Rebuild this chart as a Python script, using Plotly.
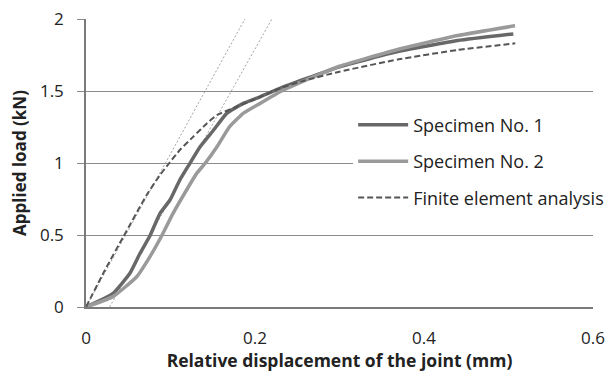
import plotly.graph_objects as go

# Specimen No. 1
spec1_x = [0, 0.032, 0.052, 0.064, 0.0757, 0.0876, 0.0994, 0.111, 0.123, 0.135, 0.151, 0.1665, 0.186, 0.206, 0.2296, 0.26, 0.3, 0.37, 0.44, 0.5057]
spec1_y = [0, 0.095, 0.234, 0.373, 0.495, 0.65, 0.743, 0.882, 0.998, 1.113, 1.229, 1.345, 1.414, 1.46, 1.519, 1.585, 1.668, 1.775, 1.85, 1.896]
# Specimen No. 2
spec2_x = [0, 0.032, 0.060, 0.0757, 0.0896, 0.103, 0.119, 0.131, 0.141, 0.155, 0.170, 0.186, 0.206, 0.2296, 0.26, 0.3, 0.37, 0.44, 0.5077]
spec2_y = [0, 0.072, 0.21, 0.35, 0.495, 0.65, 0.8125, 0.928, 0.998, 1.113, 1.252, 1.345, 1.414, 1.495, 1.575, 1.672, 1.79, 1.885, 1.953]
# Finite element analysis
fea_x = [0, 0.0225, 0.0442, 0.0718, 0.0876, 0.0986, 0.111, 0.127, 0.143, 0.155, 0.174, 0.198, 0.2296, 0.26, 0.3, 0.37, 0.44, 0.508]
fea_y = [0, 0.257, 0.488, 0.778, 0.917, 1.0, 1.09, 1.183, 1.275, 1.333, 1.38, 1.4375, 1.519, 1.575, 1.634, 1.72, 1.785, 1.831]
# Tangent (stiffness) lines
tan1_x = [0, 0.188]
tan1_y = [0, 2]
tan2_x = [0.028, 0.220]
tan2_y = [0, 2]

x_ticks = [0, 0.2, 0.4, 0.6]
x_tick_labels = ["0", "0.2", "0.4", "0.6"]
y_ticks = [0, 0.5, 1, 1.5, 2]
y_tick_labels = ["0", "0.5", "1", "1.5", "2"]

FONT = "Open Sans"

fig = go.Figure()
fig.add_trace(go.Scatter(x=tan1_x, y=tan1_y, mode="lines", showlegend=False,
                         line=dict(color="#8a8a8a", width=0.8, dash="2px,2px")))
fig.add_trace(go.Scatter(x=tan2_x, y=tan2_y, mode="lines", showlegend=False,
                         line=dict(color="#8a8a8a", width=0.8, dash="2px,2px")))
fig.add_trace(go.Scatter(x=spec1_x, y=spec1_y, mode="lines", name="Specimen No. 1",
                         legendgroup="a", line=dict(color="#686868", width=3.5,
                                                    shape="spline", smoothing=0.4)))
fig.add_trace(go.Scatter(x=spec2_x, y=spec2_y, mode="lines", name="Specimen No. 2",
                         legendgroup="b", line=dict(color="#9a9a9a", width=3.5,
                                                    shape="spline", smoothing=0.4)))
fig.add_trace(go.Scatter(x=fea_x, y=fea_y, mode="lines", name="Finite element analysis",
                         legendgroup="c", line=dict(color="#555555", width=2, dash="6px,3px",
                                                    shape="spline", smoothing=0.5)))

fig.update_layout(
    width=611, height=372,
    margin=dict(l=86, r=18, t=19, b=65, autoexpand=False),
    paper_bgcolor="white", plot_bgcolor="white",
    font=dict(family=FONT, size=17, color="#222222"),
    showlegend=True,
    legend=dict(xref="container", yref="container", x=0.578, y=0.7135,
                xanchor="left", yanchor="top", itemwidth=50,
                bgcolor="white", borderwidth=0, tracegroupgap=10,
                font=dict(family=FONT, size=18, color="#222222")),
    xaxis=dict(range=[0, 0.6], tickvals=x_ticks, ticktext=x_tick_labels,
               showgrid=False, zeroline=False, showline=True, linecolor="#7a7a7a", linewidth=1.5,
               ticks="outside", ticklen=15, tickcolor="rgba(0,0,0,0)",
               tickfont=dict(family=FONT, size=17),
               title=dict(text="<b>Relative displacement of the joint (mm)</b>", standoff=0,
                          font=dict(family=FONT, size=17.5))),
    yaxis=dict(range=[0, 2], tickvals=y_ticks, ticktext=y_tick_labels,
               showgrid=True, gridcolor="#8a8a8a", gridwidth=1, zeroline=False,
               showline=True, linecolor="#7a7a7a", linewidth=1.5,
               ticks="outside", ticklen=7, tickcolor="#8a8a8a", ticklabelstandoff=10,
               tickfont=dict(family=FONT, size=17),
               title=dict(text="<b>Applied load (kN)</b>", standoff=9,
                          font=dict(family=FONT, size=17))),
)

fig.write_html("out.html")
